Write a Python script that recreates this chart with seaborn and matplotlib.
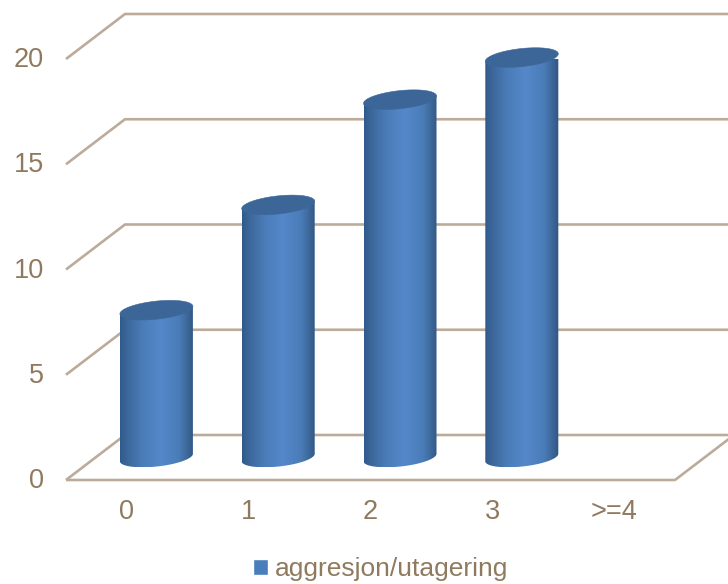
import numpy as np
import pandas as pd
import matplotlib
matplotlib.use("Agg")
import matplotlib.pyplot as plt
import seaborn as sns
from matplotlib.colors import LinearSegmentedColormap
from matplotlib.patches import PathPatch
from matplotlib.path import Path
from matplotlib.transforms import ScaledTranslation

# Chart values
categories = ["0", "1", "2", "3", ">=4"]
counts = [7, 12, 17, 19, 0]
series_name = "aggresjon/utagering"
y_ticks = [0, 5, 10, 15, 20]

TEXT = "#8f7a5f"
GRID = "#bcab9b"
BAR = "#4a7ebb"
CAP = "#3c6698"

sns.set_theme(style="white")
plt.rcParams["font.family"] = ["Liberation Sans", "DejaVu Sans"]

W, H = 728, 584
fig = plt.figure(figsize=(W / 100, H / 100), dpi=100, facecolor="white")
ax = fig.add_axes([66 / W, 1 - 480 / H, (675 - 66) / W, (480 - 59) / H])

frame = pd.DataFrame({"group": categories, "count": counts})
sns.barplot(data=frame, x="group", y="count", order=categories, width=0.6,
            color=BAR, saturation=1, label=series_name, legend=False, ax=ax)
ax.set_xlim(-0.5, 4.5)
ax.set_ylim(0, 20)
ax.set_xlabel("")
ax.set_ylabel("")
ax.set_yticks(y_ticks)
sns.despine(ax=ax, left=True, bottom=True)
ax.tick_params(axis="both", length=0, labelsize=19.5, labelcolor=TEXT)
ax.tick_params(axis="y", pad=16)
ax.tick_params(axis="x", pad=13.5)

# The value labels sit slightly above their gridline ends (2 px at 100 dpi)
nudge = ScaledTranslation(0, 0.02, fig.dpi_scale_trans)
for lbl in ax.get_yticklabels():
    lbl.set_transform(lbl.get_transform() + nudge)

# Scale between data units and pixels
px_x = (675 - 66) / 5
px_y = (480 - 59) / 20

# Depth of the 3-D box, in data units
depth_x = 59 / px_x
depth_y = 45 / px_y

# Walls and floor of the box
x0, x1 = -0.5, 4.5
line = dict(color=GRID, lw=1.9, clip_on=False, zorder=1, solid_capstyle="butt")
for v in y_ticks:
    ax.plot([x0, x0 + depth_x, x1 + depth_x],
            [v, v + depth_y, v + depth_y], **line)
ax.plot([x0, x1, x1 + depth_x], [0, 0, depth_y], **line)

# Cylinders take their geometry from the seaborn bars
shade = LinearSegmentedColormap.from_list(
    "cyl",
    [(0.0, "#315a8c"), (0.08, "#3a6598"), (0.3, "#4a7cb8"),
     (0.55, "#5588ca"), (0.8, "#4a7cb8"), (0.93, "#3a6494"), (1.0, "#2f5683")],
)
ramp = np.linspace(0, 1, 256)[None, :]

half_w_px = 36.5
minor_px = 9.0
tilt = np.deg2rad(6.2)
major_px = half_w_px / np.cos(tilt)


def ellipse(cx, cy, t):
    """Tilted ellipse outline, centred on (cx, cy) in data units."""
    ex = major_px * np.cos(t) * np.cos(tilt) - minor_px * np.sin(t) * np.sin(tilt)
    ey = major_px * np.cos(t) * np.sin(tilt) + minor_px * np.sin(t) * np.cos(tilt)
    return cx + ex / px_x, cy + ey / px_y


swatch = ax.patches[0]
fig.legend([swatch], [series_name], loc="center", bbox_to_anchor=(381 / W, 1 - 569 / H),
           frameon=False, fontsize=19, labelcolor=TEXT, handlelength=0.55,
           handleheight=0.55, handletextpad=0.28, borderpad=0, borderaxespad=0)

for bar in ax.patches:
    value = bar.get_height()
    centre = bar.get_x() + bar.get_width() / 2
    bar.set_visible(False)
    if value == 0:
        continue
    cx = centre + depth_x / 2
    base = depth_y / 2
    top = base + value

    # Side wall: chord across the top, then the lower arc of the base
    tb = np.linspace(np.pi * 2, np.pi, 60)
    bx, by = ellipse(cx, base, tb)
    rx, ry = ellipse(cx, top, np.array([np.pi, 0.0]))
    vx = np.r_[rx, bx, rx[0]]
    vy = np.r_[ry, by, ry[0]]
    img = ax.imshow(ramp, cmap=shade, aspect="auto", zorder=2.5, vmin=0, vmax=1,
                    extent=[vx.min(), vx.max(), by.min(), ry.max()],
                    interpolation="bilinear", clip_on=True)
    img.set_clip_path(PathPatch(Path(np.c_[vx, vy]), transform=ax.transData))

    # Top cap
    cap_x, cap_y = ellipse(cx, top, np.linspace(0, 2 * np.pi, 80))
    ax.add_patch(PathPatch(Path(np.c_[cap_x, cap_y]), facecolor=CAP,
                           edgecolor=CAP, lw=0.4, zorder=3, clip_on=False))

ax.set_xlim(-0.5, 4.5)
ax.set_ylim(0, 20)
ax.patch.set_alpha(0)

fig.savefig("out.png", dpi=100, facecolor="white")
